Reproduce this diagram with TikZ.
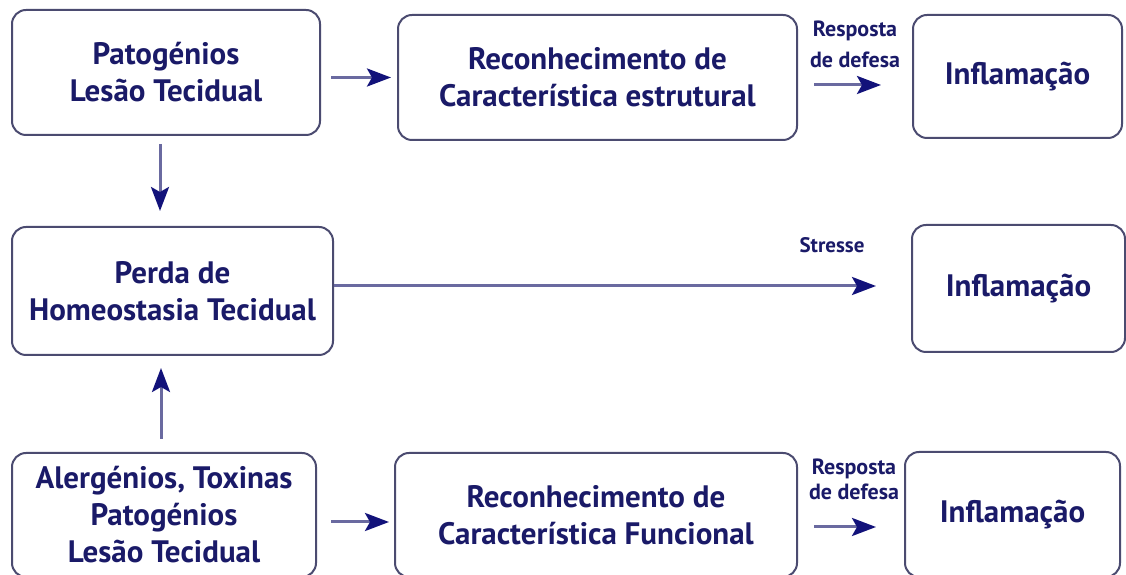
\documentclass[tikz,border=0pt]{standalone}
\usepackage{fontspec}
\setmainfont{PT Sans}
\usetikzlibrary{arrows.meta,calc,positioning}
\definecolor{ink}{HTML}{1A1A68}
\definecolor{frame}{HTML}{4B4B70}
\definecolor{shaft}{HTML}{6A6AA0}
\definecolor{tip}{HTML}{12127A}
\tikzset{
  box/.style={
    draw=frame,
    line width=2pt,
    rounded corners=14pt,
    align=center,
    text=ink,
    inner sep=0pt,
    font=\bfseries\fontsize{31}{37}\selectfont
  },
  flow/.style={
    -{Stealth[length=24pt,width=18pt,inset=5pt,color=tip]},
    draw=shaft,
    line width=3pt
  },
  tag/.style={
    text=ink,
    align=center,
    font=\bfseries\fontsize{22}{31}\selectfont
  }
}

\begin{document}
\begin{tikzpicture}[x=1pt,y=1pt]
  \useasboundingbox (0,0) rectangle (1126,575);

  % Top row
  \node[box, minimum width=308pt, minimum height=125pt] (patTop) at (166,502.5)
    {Patogénios\\Lesão Tecidual};
  \node[box, minimum width=399pt, minimum height=125pt] (recStruct) at (597.5,497.5)
    {Reconhecimento de\\Característica estrutural};
  \node[box, minimum width=209pt, minimum height=123pt] (inflTop) at (1017.5,498.5)
    {Inflamação};

  % Middle row
  \node[box, minimum width=321pt, minimum height=128pt] (perda) at (172.5,284)
    {Perda de\\Homeostasia Tecidual};
  \node[box, minimum width=213pt, minimum height=127pt] (inflMid) at (1018.5,286.5)
    {Inflamação};

  % Bottom row
  \node[box, minimum width=304pt, minimum height=124pt] (alerg) at (164,60)
    {Alergénios, Toxinas\\Patogénios\\Lesão Tecidual};
  \node[box, minimum width=402pt, minimum height=124pt] (recFunc) at (596,60)
    {Reconhecimento de\\Característica Funcional};
  \node[box, minimum width=215pt, minimum height=125pt] (inflBot) at (1012.5,60.5)
    {Inflamação};

  % Labels over the arrows
  \node[tag] (respTop) at (855,530.5) {Resposta\\de defesa};
  \node[tag, font=\bfseries\fontsize{22}{25}\selectfont] (respBot) at (854,95.5)
    {Resposta\\de defesa};
  \node[tag, font=\bfseries\fontsize{21}{24}\selectfont] (stress) at (832,330) {Stresse};

  % Connectors
  \coordinate (aTop) at ([yshift=-7.5pt]recStruct.east);
  \coordinate (aMid) at ([yshift=5pt]perda.east);
  \coordinate (aBot) at ([yshift=-12pt]recFunc.east);

  \draw[flow, shorten <=10pt, shorten >=6pt] (patTop.east |- recStruct.west) -- (recStruct.west);
  \draw[flow, shorten <=16pt, shorten >=31pt] (aTop) -- (aTop -| inflTop.west);
  \draw[flow, shorten >=35pt] (aMid) -- (aMid -| inflMid.west);
  \draw[flow, shorten <=8pt, shorten >=15pt] ([xshift=-6pt]patTop.south) -- ([xshift=-6pt]patTop.south |- perda.north);
  \draw[flow, shorten <=13pt, shorten >=12pt] ([xshift=-3pt]alerg.north) -- ([xshift=-3pt]alerg.north |- perda.south);
  \draw[flow, shorten <=14pt, shorten >=5pt] ([yshift=-7pt]alerg.east) -- ([yshift=-7pt]alerg.east -| recFunc.west);
  \draw[flow, shorten <=16pt, shorten >=28pt] (aBot) -- (aBot -| inflBot.west);
\end{tikzpicture}
\end{document}
